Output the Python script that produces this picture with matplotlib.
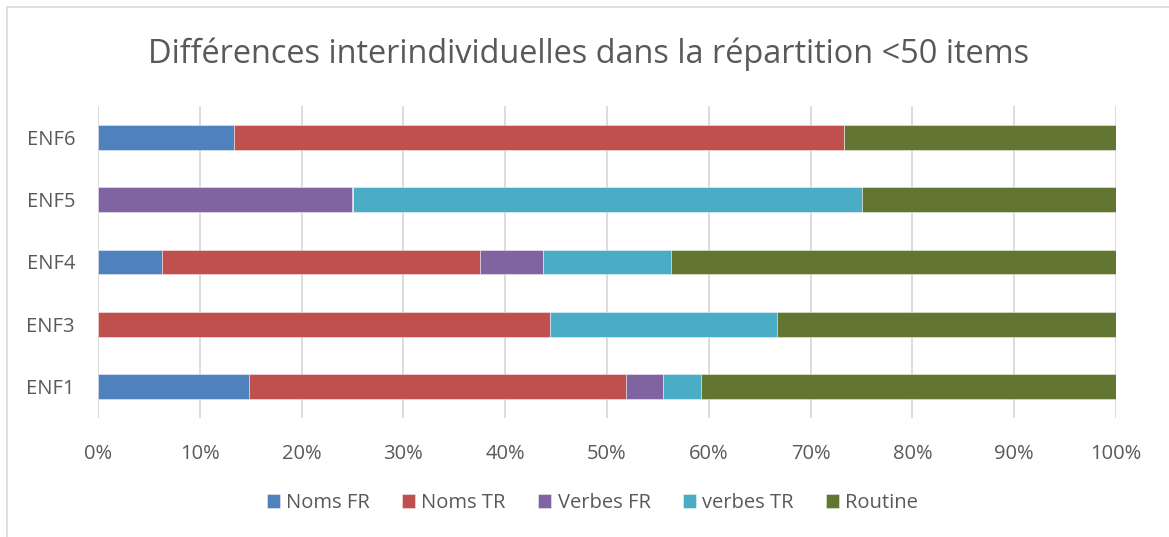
import matplotlib
matplotlib.use("Agg")
import matplotlib.pyplot as plt
from matplotlib.patches import Rectangle
from matplotlib.ticker import PercentFormatter

plt.rcParams['font.family'] = ['Open Sans', 'DejaVu Sans']

categories = ["ENF1", "ENF3", "ENF4", "ENF5", "ENF6"]
series_names = ["Noms FR", "Noms TR", "Verbes FR", "verbes TR", "Routine"]
noms_fr   = [14.81, 0.0,   6.25,  0.0,  13.33]
noms_tr   = [37.04, 44.44, 31.25, 0.0,  60.00]
verbes_fr = [3.70,  0.0,   6.25,  25.0, 0.0]
verbes_tr = [3.70,  22.22, 12.50, 50.0, 0.0]
routine   = [40.74, 33.33, 43.75, 25.0, 26.67]
xticks = [0, 10, 20, 30, 40, 50, 60, 70, 80, 90, 100]

colors = ["#4F81BD", "#C0504D", "#8064A2", "#4BACC6", "#627531"]
series = [noms_fr, noms_tr, verbes_fr, verbes_tr, routine]

W, H = 1169, 537
fig = plt.figure(figsize=(W / 100, H / 100), dpi=100)
fig.patches.append(Rectangle((7 / W, -0.1), 1.2, 1 - 7 / H + 0.1, transform=fig.transFigure,
                             fill=False, edgecolor="#D9D9D9", linewidth=1.2))

ax = fig.add_axes([98 / W, 1 - 418 / H, 1018 / W, 312 / H])
left = [0.0] * len(categories)
for name, vals, col in zip(series_names, series, colors):
    ax.barh(categories, vals, left=left, height=0.4, color=col, label=name,
            edgecolor=(1, 1, 1, 0.5), linewidth=0.6, zorder=3)
    left = [l + v for l, v in zip(left, vals)]

ax.set_xlim(0, 100)
ax.set_ylim(-0.5, len(categories) - 0.5)
ax.set_xticks(xticks)
ax.xaxis.set_major_formatter(PercentFormatter(decimals=0))
ax.grid(axis="x", color="#D9D9D9", linewidth=1.3, zorder=0)
for s in ax.spines.values():
    s.set_visible(False)
ax.tick_params(axis="both", length=0, labelsize=14.5, labelcolor="#595959")
ax.tick_params(axis="y", pad=16.5)
ax.tick_params(axis="x", pad=19)

fig.text(589 / W, 1 - 63 / H, "Différences interindividuelles dans la répartition <50 items",
         ha="center", va="baseline", fontsize=23.4, color="#595959")

leg = fig.legend(loc="center", bbox_to_anchor=(592.5 / W, 1 - 503 / H), ncol=5, frameon=False,
                 fontsize=14.5, handlelength=0.65, handleheight=0.65, handletextpad=0.3,
                 columnspacing=1.62, borderaxespad=0)
for t in leg.get_texts():
    t.set_color("#595959")

fig.savefig("out.png", dpi=100)
